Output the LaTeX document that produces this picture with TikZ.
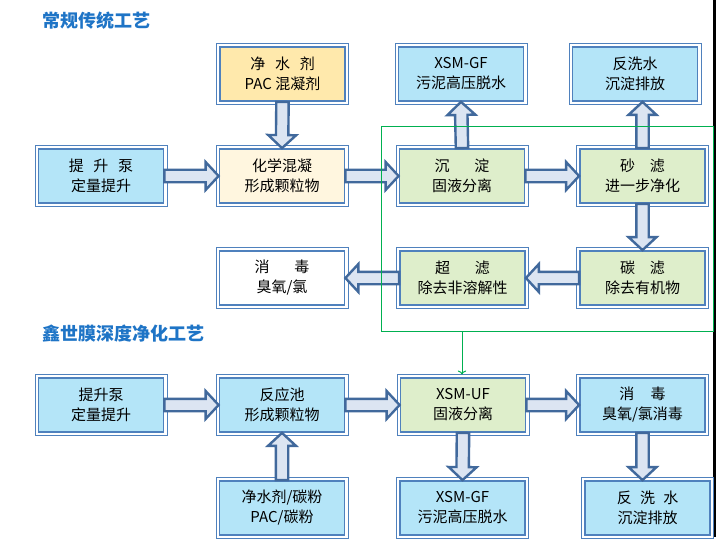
\documentclass[tikz,border=0pt]{standalone}
\usepackage{fontspec}
\setmainfont{Noto Sans CJK SC}
\usetikzlibrary{calc,arrows.meta}

\definecolor{boxline}{HTML}{4F81BD}
\definecolor{skyfill}{HTML}{B4E5F8}
\definecolor{leaffill}{HTML}{DEEECB}
\definecolor{sandfill}{HTML}{FFE9AC}
\definecolor{creamfill}{HTML}{FFF6DF}
\definecolor{flowline}{HTML}{41699C}
\definecolor{flowfill}{HTML}{DCE5F2}
\definecolor{titleblue}{HTML}{1E74C6}
\definecolor{greenline}{HTML}{00B050}

\tikzset{
  box/.style={draw=boxline, line width=1.8pt, minimum width=125pt, minimum height=54pt,
    inner sep=0pt, align=center, font=\fontsize{15}{20}\selectfont,
    append after command={\pgfextra{\draw[boxline, line width=0.8pt]
      ([shift={(-2.6pt,2.6pt)}]\tikzlastnode.north west) rectangle
      ([shift={(2.6pt,-2.6pt)}]\tikzlastnode.south east);}}},
  skybox/.style={box, fill=skyfill},
  leafbox/.style={box, fill=leaffill},
  sandbox/.style={box, fill=sandfill},
  creambox/.style={box, fill=creamfill},
  plainbox/.style={box, fill=white},
  flow/.style={draw=flowline, fill=flowfill, line width=2.4pt},
  frameline/.style={draw=greenline, line width=1pt},
  heading/.style={anchor=west, inner sep=0pt, text=titleblue, font=\fontsize{18}{20}\selectfont\bfseries},
}

% fat hollow arrow from #1 (tail) to #2 (tip)
\newcommand{\fatflow}[2]{%
  \coordinate (hb) at ($(#2)!13pt!(#1)$);
  \draw[flow] ($(#1)!6.2pt!90:(#2)$) -- ($(hb)!6.2pt!90:(#2)$) -- ($(hb)!14pt!90:(#2)$)
    -- (#2) -- ($(hb)!14pt!-90:(#2)$) -- ($(hb)!6.2pt!-90:(#2)$) -- ($(#1)!6.2pt!-90:(#2)$) -- cycle;}

\begin{document}
\begin{tikzpicture}[x=1pt,y=-1pt]
\useasboundingbox (0,0) rectangle (716,551);
\fill (713,0) rectangle (716,537);

\node[heading] (title1) at (42,21) {常规传统工艺};
\node[heading] (title2) at (42,334) {鑫世膜深度净化工艺};

% conventional process
\node[sandbox] (agent) at (282.5,74) {净\hspace{.65em}水\hspace{.65em}剂\\PAC 混凝剂};
\node[skybox] (press) at (461,74) {XSM-GF\\污泥高压脱水};
\node[skybox] (wash) at (635,74) {反洗水\\沉淀排放};
\node[skybox] (pump) at (101,176) {提\hspace{.65em}升\hspace{.65em}泵\\定量提升};
\node[creambox] (coag) at (282,176) {化学混凝\\形成颗粒物};
\node[leafbox] (settle) at (462,176) {沉\hspace{1.65em}淀\\固液分离};
\node[leafbox] (sand) at (642.5,176) {砂\hspace{1em}滤\\进一步净化};
\node[plainbox] (disinf) at (282,278) {消\hspace{1.65em}毒\\臭氧/氯};
\node[leafbox] (ultra) at (462.5,278) {超\hspace{1.65em}滤\\除去非溶解性};
\node[leafbox] (carbon) at (642.5,278) {碳\hspace{1em}滤\\除去有机物};

\fatflow{agent.south}{coag.north}
\fatflow{pump.east}{coag.west}
\fatflow{coag.east}{settle.west}
\fatflow{settle.north}{press.south}
\fatflow{settle.east}{sand.west}
\fatflow{sand.north}{sand.north |- wash.south}
\fatflow{sand.south}{carbon.north}
\fatflow{carbon.west}{ultra.east}
\fatflow{ultra.west}{disinf.east}

% membrane process
\node[skybox] (pump2) at (101,405) {提升泵\\定量提升};
\node[skybox] (react) at (282,405) {反应池\\形成颗粒物};
\node[leafbox] (uf) at (463,405) {XSM-UF\\固液分离};
\node[skybox] (disinf2) at (642.5,405) {消\hspace{1.1em}毒\\臭氧/氯消毒};
\node[skybox] (agent2) at (282,508) {净水剂/碳粉\\PAC/碳粉};
\node[skybox] (press2) at (462.5,508) {XSM-GF\\污泥高压脱水};
\node[skybox] (wash2) at (647.5,508) {反\hspace{.55em}洗\hspace{.55em}水\\沉淀排放};

\fatflow{pump2.east}{react.west}
\fatflow{agent2.north}{react.south}
\fatflow{react.east}{uf.west}
\fatflow{uf.south}{press2.north}
\fatflow{uf.east}{disinf2.west}
\fatflow{disinf2.south}{disinf2.south |- wash2.north}

% green frame round the part replaced
\draw[frameline] (381,127) rectangle (713,331);
\coordinate (framefoot) at (462,331);
\coordinate (uftop) at ([yshift=2.6pt]uf.north);
\draw[frameline, -{To[length=4pt]}] (framefoot) -- (framefoot |- uftop);
\end{tikzpicture}
\end{document}
